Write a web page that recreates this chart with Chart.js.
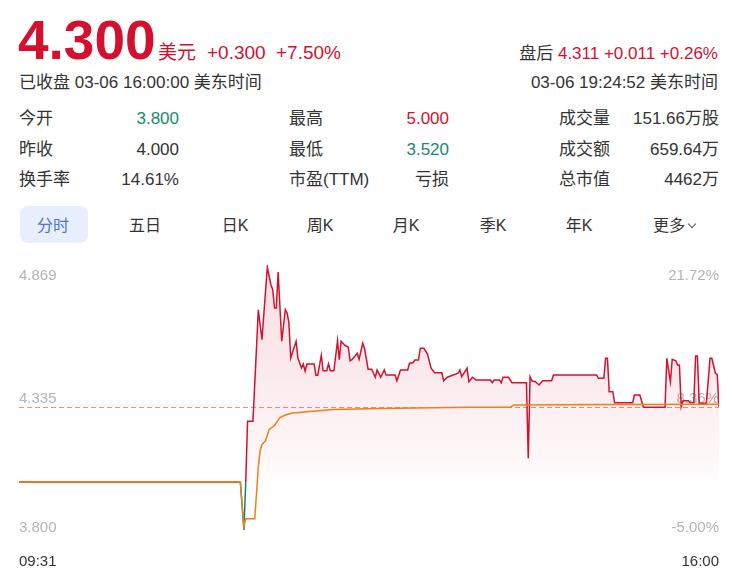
<!DOCTYPE html>
<html>
<head>
<meta charset="utf-8">
<script src="https://cdn.jsdelivr.net/npm/chart.js"></script>
<style>
body{margin:0;background:#fff;width:732px;height:578px;overflow:hidden;position:relative;
  font-family:"Liberation Sans",Arial,"Noto Sans CJK SC",sans-serif;color:#333;}
.t{position:absolute;white-space:nowrap;}
.red{color:#d5102e;}
.green{color:#178a6c;}
.f17{font-size:17px;line-height:17px;}
.f16{font-size:16px;line-height:16px;}
.tab{position:absolute;top:217.5px;width:80px;text-align:center;font-size:16px;line-height:16px;color:#333;}
.chev{display:inline-block;width:5px;height:5px;border-right:1px solid #555;border-bottom:1px solid #555;transform:rotate(45deg);margin:0 0 4px 4px;}
#wrap{position:absolute;left:0;top:255px;width:732px;height:320px;}
</style>
</head>
<body>

<div class="t red" style="left:18px;top:12.7px;font-size:55px;line-height:55px;font-weight:bold;">4.300</div>
<div class="t red" style="left:158px;top:43px;font-size:19px;line-height:19px;">美元</div>
<div class="t red" style="left:207px;top:43px;font-size:19px;line-height:19px;">+0.300</div>
<div class="t red" style="left:276px;top:43px;font-size:19px;line-height:19px;">+7.50%</div>
<div class="t f17" style="left:19px;top:73.6px;">已收盘 03-06 16:00:00 美东时间</div>

<div class="t f17" style="right:14px;top:44.9px;">盘后 <span class="red">4.311 +0.011 +0.26%</span></div>
<div class="t f17" style="right:14px;top:73.9px;">03-06 19:24:52 美东时间</div>

<div class="t f17" style="left:19px;top:109.6px;">今开</div>
<div class="t f17 green" style="right:553px;top:109.6px;">3.800</div>
<div class="t f17" style="left:289px;top:109.6px;">最高</div>
<div class="t f17 red" style="right:283px;top:109.6px;">5.000</div>
<div class="t f17" style="left:559px;top:109.6px;">成交量</div>
<div class="t f17" style="right:13px;top:109.6px;">151.66万股</div>

<div class="t f17" style="left:19px;top:140.6px;">昨收</div>
<div class="t f17" style="right:553px;top:140.6px;">4.000</div>
<div class="t f17" style="left:289px;top:140.6px;">最低</div>
<div class="t f17 green" style="right:283px;top:140.6px;">3.520</div>
<div class="t f17" style="left:559px;top:140.6px;">成交额</div>
<div class="t f17" style="right:13px;top:140.6px;">659.64万</div>

<div class="t f17" style="left:19px;top:170.6px;">换手率</div>
<div class="t f17" style="right:553px;top:170.6px;">14.61%</div>
<div class="t f17" style="left:289px;top:170.6px;">市盈(TTM)</div>
<div class="t f17" style="right:283px;top:170.6px;">亏损</div>
<div class="t f17" style="left:559px;top:170.6px;">总市值</div>
<div class="t f17" style="right:13px;top:170.6px;">4462万</div>

<div style="position:absolute;left:19.5px;top:206px;width:68px;height:37px;border-radius:8px;background:#e7effc;"></div>
<div class="tab" style="left:13px;color:#4f74cf;">分时</div>
<div class="tab" style="left:105px;">五日</div>
<div class="tab" style="left:195px;">日K</div>
<div class="tab" style="left:280px;">周K</div>
<div class="tab" style="left:366px;">月K</div>
<div class="tab" style="left:453px;">季K</div>
<div class="tab" style="left:539px;">年K</div>
<div class="tab" style="left:634px;">更多<span class="chev"></span></div>

<div id="wrap"><canvas id="minuteChart" width="732" height="320"></canvas></div>

<script>
// minute index from 09:31 (0) to 16:00 (389)
var priceMins = [0,123,125,126,127,130,133,135,138,140,141,142,143,144,146,148,149,150,151,154,
  155,157,158,159,160,164,165,166,168,169,171,172,173,175,177,178,179,181,183,184,
  185,188,189,191,192,194,196,198,199,201,203,204,209,210,212,216,217,219,220,222,
  223,225,227,229,231,235,236,238,244,245,246,249,250,252,254,262,263,264,267,268,
  269,272,274,282,283,284,285,287,289,291,296,297,321,322,325,326,327,328,330,331,
  341,342,345,347,359,360,362,363,365,366,367,368,369,372,373,375,376,377,378,382,
  384,385,387,388,389];
var prices = [4.000,4.000,3.808,4.000,4.243,4.243,4.689,4.569,4.859,4.789,4.769,4.696,4.696,4.840,4.563,4.689,4.676,4.636,4.496,4.563,
  4.496,4.456,4.472,4.443,4.472,4.472,4.427,4.427,4.507,4.445,4.445,4.472,4.445,4.445,4.565,4.489,4.563,4.547,4.539,4.485,
  4.489,4.515,4.491,4.555,4.535,4.451,4.451,4.419,4.448,4.419,4.448,4.428,4.428,4.405,4.448,4.448,4.475,4.477,4.488,4.488,
  4.535,4.535,4.512,4.455,4.437,4.437,4.405,4.419,4.435,4.448,4.421,4.455,4.401,4.419,4.408,4.408,4.397,4.408,4.408,4.397,
  4.419,4.419,4.397,4.397,4.095,4.421,4.405,4.401,4.388,4.405,4.405,4.428,4.428,4.415,4.415,4.495,4.495,4.361,4.361,4.317,
  4.317,4.348,4.348,4.299,4.299,4.495,4.401,4.491,4.485,4.468,4.468,4.301,4.325,4.325,4.317,4.317,4.504,4.504,4.315,4.315,
  4.495,4.495,4.435,4.430,4.300];

var avgMins = [0,123,125,126,131,133,134,135,137,139,142,145,148,152,160,175,200,250,273,275,330,389];
var avgPrices = [4.000,4.000,3.822,3.853,3.853,4.060,4.125,4.150,4.165,4.210,4.226,4.258,4.268,4.276,4.281,4.290,4.294,4.299,4.299,4.308,4.310,4.311];

var prevClose = 4.000;
var closePrice = 4.300;
var tickValues = [4.869, 4.3345, 3.800];
var priceTicks = ["4.869", "4.335", "3.800"];
var pctTicks = ["21.72%", "8.36%", "-5.00%"];
var timeLabels = ["09:31", "16:00"];

var upColor = "#d4102f";
var downColor = "#12866a";
var avgColor = "#ef7f1a";

function pts(xs, ys) {
  return xs.map(function (x, i) { return {x: x, y: ys[i]}; });
}

var overlay = {
  id: "overlay",
  beforeDatasetsDraw: function (chart) {
    var ctx = chart.ctx, a = chart.chartArea, y = chart.scales.y;
    ctx.save();
    // dashed line at the close
    var yc = Math.round(y.getPixelForValue(closePrice)) + 0.5;
    ctx.strokeStyle = "#ef8e8e";
    ctx.lineWidth = 1;
    ctx.setLineDash([5, 3]);
    ctx.beginPath(); ctx.moveTo(a.left, yc); ctx.lineTo(a.right, yc); ctx.stroke();
    ctx.setLineDash([]);
    ctx.font = '15px "Liberation Sans", Arial, sans-serif';
    ctx.fillStyle = "#b4b4b4";
    var offs = [15.3, 5, 0];
    tickValues.forEach(function (v, i) {
      var py = y.getPixelForValue(v) + offs[i];
      ctx.textAlign = "left"; ctx.fillText(priceTicks[i], a.left, py);
      ctx.textAlign = "right"; ctx.fillText(pctTicks[i], a.right, py);
    });
    ctx.fillStyle = "#333";
    ctx.textAlign = "left"; ctx.fillText(timeLabels[0], a.left, a.bottom + 34);
    ctx.textAlign = "right"; ctx.fillText(timeLabels[1], a.right, a.bottom + 34);
    ctx.restore();
  }
};

new Chart("minuteChart", {
  type: "line",
  data: {
    datasets: [{
      data: pts(avgMins, avgPrices),
      borderColor: avgColor,
      borderWidth: 1.5,
      pointRadius: 0,
      fill: false
    }, {
      data: pts(priceMins, prices),
      borderColor: upColor,
      borderWidth: 1.5,
      pointRadius: 0,
      fill: "start",
      segment: {
        borderColor: function (c) {
          var a = c.p0.parsed.y, b = c.p1.parsed.y;
          return (a <= prevClose && b <= prevClose && (a < prevClose || b < prevClose)) ? downColor : upColor;
        }
      },
      backgroundColor: function (c) {
        var area = c.chart.chartArea;
        if (!area) return "rgba(0,0,0,0)";
        var g = c.chart.ctx.createLinearGradient(0, area.top, 0, area.bottom);
        g.addColorStop(0, "rgba(215,20,50,0.14)");
        g.addColorStop(0.4, "rgba(215,20,50,0.09)");
        g.addColorStop(0.7, "rgba(215,20,50,0.035)");
        g.addColorStop(0.85, "rgba(215,20,50,0)");
        return g;
      }
    }]
  },
  options: {
    responsive: false,
    animation: false,
    layout: {padding: {left: 19, right: 13, top: 9.75, bottom: 43}},
    plugins: {legend: {display: false}, tooltip: {enabled: false}},
    scales: {
      x: {type: "linear", min: 0, max: 389, display: false},
      y: {min: 3.800, max: 4.869, display: false}
    }
  },
  plugins: [overlay]
});
</script>
</body>
</html>
